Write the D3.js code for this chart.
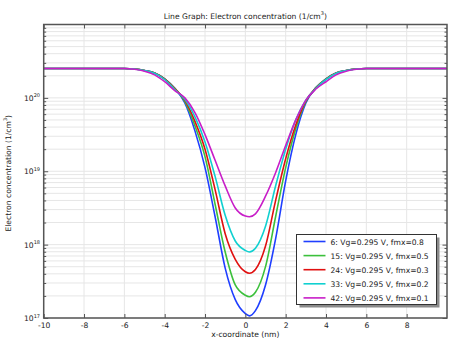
<!DOCTYPE html>
<html>
<head>
<meta charset="utf-8">
<script src="https://cdn.jsdelivr.net/npm/d3@7"></script>
<style>
  html, body { margin: 0; padding: 0; background: #fff; }
  svg { display: block; font-family: "DejaVu Sans", sans-serif; }
</style>
</head>
<body>
<svg id="chart" width="457" height="341"></svg>
<script>
// ---- data ----
const xCoord = [-10, -6, -5.5, -5, -4.5, -4, -3.5, -3, -2.5, -2, -1.5, -1, -0.5, 0, 0.2, 0.5, 1, 1.5, 2, 2.5, 3, 3.5, 4, 4.5, 5, 5.5, 6, 10];

const seriesNames = [
  "6: Vg=0.295 V, fmx=0.8",
  "15: Vg=0.295 V, fmx=0.5",
  "24: Vg=0.295 V, fmx=0.3",
  "33: Vg=0.295 V, fmx=0.2",
  "42: Vg=0.295 V, fmx=0.1"
];
const seriesColors = ["#1f3fff", "#3cc03c", "#e01010", "#10d0d0", "#c81ec8"];

const n_fmx08 = [2.51e20, 2.51e20, 2.47e20, 2.36e20, 2.19e20, 1.82e20, 1.35e20, 8.51e19, 3.55e19, 1.12e19, 2.40e18, 4.79e17, 1.78e17, 1.15e17, 1.07e17, 1.26e17, 2.82e17, 1.20e18, 7.41e18, 3.16e19, 8.51e19, 1.38e20, 1.82e20, 2.19e20, 2.36e20, 2.47e20, 2.51e20, 2.51e20];
const n_fmx05 = [2.51e20, 2.51e20, 2.47e20, 2.36e20, 2.19e20, 1.82e20, 1.35e20, 8.91e19, 4.17e19, 1.58e19, 3.55e18, 7.94e17, 2.82e17, 2.04e17, 1.95e17, 2.24e17, 5.01e17, 2.40e18, 1.12e19, 3.80e19, 8.91e19, 1.38e20, 1.82e20, 2.19e20, 2.36e20, 2.47e20, 2.51e20, 2.51e20];
const n_fmx03 = [2.51e20, 2.51e20, 2.47e20, 2.36e20, 2.19e20, 1.80e20, 1.33e20, 9.33e19, 4.79e19, 2.00e19, 5.62e18, 1.41e18, 6.31e17, 4.27e17, 4.07e17, 4.57e17, 9.55e17, 3.98e18, 1.48e19, 4.27e19, 9.12e19, 1.36e20, 1.80e20, 2.19e20, 2.36e20, 2.47e20, 2.51e20, 2.51e20];
const n_fmx02 = [2.51e20, 2.51e20, 2.47e20, 2.36e20, 2.17e20, 1.78e20, 1.30e20, 9.55e19, 5.50e19, 2.51e19, 8.51e18, 2.51e18, 1.12e18, 8.32e17, 7.94e17, 8.91e17, 1.78e18, 6.31e18, 2.00e19, 5.01e19, 9.33e19, 1.35e20, 1.78e20, 2.17e20, 2.36e20, 2.47e20, 2.51e20, 2.51e20];
const n_fmx01 = [2.51e20, 2.51e20, 2.45e20, 2.31e20, 2.06e20, 1.66e20, 1.26e20, 1.00e20, 6.31e19, 3.16e19, 1.41e19, 6.31e18, 3.16e18, 2.45e18, 2.40e18, 2.63e18, 4.57e18, 9.55e18, 2.24e19, 5.01e19, 9.33e19, 1.32e20, 1.66e20, 2.06e20, 2.31e20, 2.45e20, 2.51e20, 2.51e20];

const seriesValues = [n_fmx08, n_fmx05, n_fmx03, n_fmx02, n_fmx01];

const xTickValues = [-10, -8, -6, -4, -2, 0, 2, 4, 6, 8];
const xTickLabels = ["-10", "-8", "-6", "-4", "-2", "0", "2", "4", "6", "8"];
const xGridValues = [-10, -8, -6, -4, -2, 0, 2, 4, 6, 8, 10];
const yDecades = [17, 18, 19, 20];
const yLabelExponents = ["17", "18", "19", "20"];

const titleText = "Line Graph: Electron concentration (1/cm";
const xTitle = "x-coordinate (nm)";
const yTitle = "Electron concentration (1/cm";

// ---- layout ----
const W = 457, H = 341;
const plot = { left: 43.7, right: 447, top: 24.5, bottom: 318 };
const FS = 7.6;

const svg = d3.select("#chart");
const x = d3.scaleLinear().domain([-10, 10]).range([plot.left, plot.right]);
const y = d3.scaleLog().domain([1e17, 1e21]).range([plot.bottom, plot.top]);

const yMinor = [];
yDecades.forEach(d => { for (let k = 1; k <= 9; k++) yMinor.push(k * Math.pow(10, d)); });

// gridlines
const grid = svg.append("g").attr("class", "grid");
grid.selectAll("line.hy").data(yMinor).enter().append("line")
  .attr("x1", plot.left).attr("x2", plot.right)
  .attr("y1", d => y(d)).attr("y2", d => y(d))
  .attr("stroke", "#e6e6e6").attr("stroke-width", 1);
grid.selectAll("line.vx").data(xGridValues).enter().append("line")
  .attr("y1", plot.top).attr("y2", plot.bottom)
  .attr("x1", d => x(d)).attr("x2", d => x(d))
  .attr("stroke", "#e6e6e6").attr("stroke-width", 1);

svg.append("clipPath").attr("id", "clip").append("rect")
  .attr("x", plot.left).attr("y", plot.top)
  .attr("width", plot.right - plot.left).attr("height", plot.bottom - plot.top);

// lines
const line = d3.line()
  .x((d, i) => x(xCoord[i]))
  .y(d => y(d))
  .curve(d3.curveMonotoneX);

const linesG = svg.append("g").attr("clip-path", "url(#clip)");
seriesValues.forEach((vals, i) => {
  linesG.append("path").datum(vals)
    .attr("d", line)
    .attr("fill", "none")
    .attr("stroke", seriesColors[i])
    .attr("stroke-width", 1.6)
    .attr("stroke-linejoin", "round");
});

// axes (ticks inward)
const axisColor = "#555";
const xBottom = d3.axisBottom(x).tickValues(xTickValues).tickSizeInner(-4).tickSizeOuter(0).tickPadding(5)
  .tickFormat((d, i) => xTickLabels[i]);
const gxb = svg.append("g").attr("transform", `translate(0,${plot.bottom})`).call(xBottom);
const xTop = d3.axisTop(x).tickValues(xTickValues).tickSizeInner(-4).tickSizeOuter(0).tickFormat("");
const gxt = svg.append("g").attr("transform", `translate(0,${plot.top})`).call(xTop);

const yMajorVals = yDecades.map(d => Math.pow(10, d));
const yMinorOnly = yMinor.filter(v => !yMajorVals.includes(v));
const gyl1 = svg.append("g").attr("transform", `translate(${plot.left},0)`).call(d3.axisLeft(y).tickValues(yMinorOnly).tickSizeInner(-2.5).tickSizeOuter(0).tickFormat(""));
const gyl2 = svg.append("g").attr("transform", `translate(${plot.left},0)`).call(d3.axisLeft(y).tickValues(yMajorVals).tickSizeInner(-4.5).tickSizeOuter(0).tickFormat(""));
const gyr1 = svg.append("g").attr("transform", `translate(${plot.right},0)`).call(d3.axisRight(y).tickValues(yMinorOnly).tickSizeInner(-2.5).tickSizeOuter(0).tickFormat(""));
const gyr2 = svg.append("g").attr("transform", `translate(${plot.right},0)`).call(d3.axisRight(y).tickValues(yMajorVals).tickSizeInner(-4.5).tickSizeOuter(0).tickFormat(""));

[gxb, gxt, gyl1, gyl2, gyr1, gyr2].forEach(g => {
  g.select(".domain").remove();
  g.selectAll(".tick line").attr("stroke", axisColor).attr("stroke-width", 1);
});
gxb.selectAll(".tick text").attr("fill", "#222").attr("font-size", FS)
  .attr("font-family", "DejaVu Sans, sans-serif").attr("dy", "0.6em");

// frame
svg.append("rect")
  .attr("x", plot.left).attr("y", plot.top)
  .attr("width", plot.right - plot.left).attr("height", plot.bottom - plot.top)
  .attr("fill", "none").attr("stroke", axisColor).attr("stroke-width", 1.5);

// y tick labels with superscripts
const yl = svg.append("g");
yDecades.forEach((d, i) => {
  const t = yl.append("text")
    .attr("x", 40).attr("y", y(Math.pow(10, d)) + 3)
    .attr("text-anchor", "end").attr("fill", "#222")
    .attr("font-size", FS);
  t.append("tspan").text("10");
  t.append("tspan").attr("font-size", 5).attr("dy", -3.5).text(yLabelExponents[i]);
});

// title
const tt = svg.append("text").attr("x", (plot.left + plot.right) / 2).attr("y", 18.5)
  .attr("text-anchor", "middle").attr("font-size", FS).attr("fill", "#222");
tt.append("tspan").text(titleText);
tt.append("tspan").attr("font-size", 5).attr("dy", -3.5).text("3");
tt.append("tspan").attr("dy", 3.5).text(")");

// x title
svg.append("text").attr("x", (plot.left + plot.right) / 2).attr("y", 337)
  .attr("text-anchor", "middle").attr("font-size", FS).attr("fill", "#222").text(xTitle);

// y title
const yt = svg.append("text")
  .attr("transform", `translate(10.5,${(plot.top + plot.bottom) / 2 + 2}) rotate(-90)`)
  .attr("text-anchor", "middle").attr("font-size", FS).attr("fill", "#222");
yt.append("tspan").text(yTitle);
yt.append("tspan").attr("font-size", 5).attr("dy", -3.5).text("3");
yt.append("tspan").attr("dy", 3.5).text(")");

// legend
const lg = { x: 296.5, y: 234.5, w: 140, h: 70 };
svg.append("rect").attr("x", lg.x + 3).attr("y", lg.y + 3).attr("width", lg.w).attr("height", lg.h)
  .attr("fill", "#8a8a8a");
svg.append("rect").attr("x", lg.x).attr("y", lg.y).attr("width", lg.w).attr("height", lg.h)
  .attr("fill", "#fff").attr("stroke", "#333").attr("stroke-width", 1);
const rowH = 14.1;
seriesNames.forEach((name, i) => {
  const cy = lg.y + 7 + i * rowH;
  svg.append("line").attr("x1", lg.x + 7).attr("x2", lg.x + 29)
    .attr("y1", cy).attr("y2", cy)
    .attr("stroke", seriesColors[i]).attr("stroke-width", 1.6);
  svg.append("text").attr("x", lg.x + 34).attr("y", cy + 3)
    .attr("font-size", FS).attr("fill", "#222").text(name);
});
</script>
</body>
</html>
